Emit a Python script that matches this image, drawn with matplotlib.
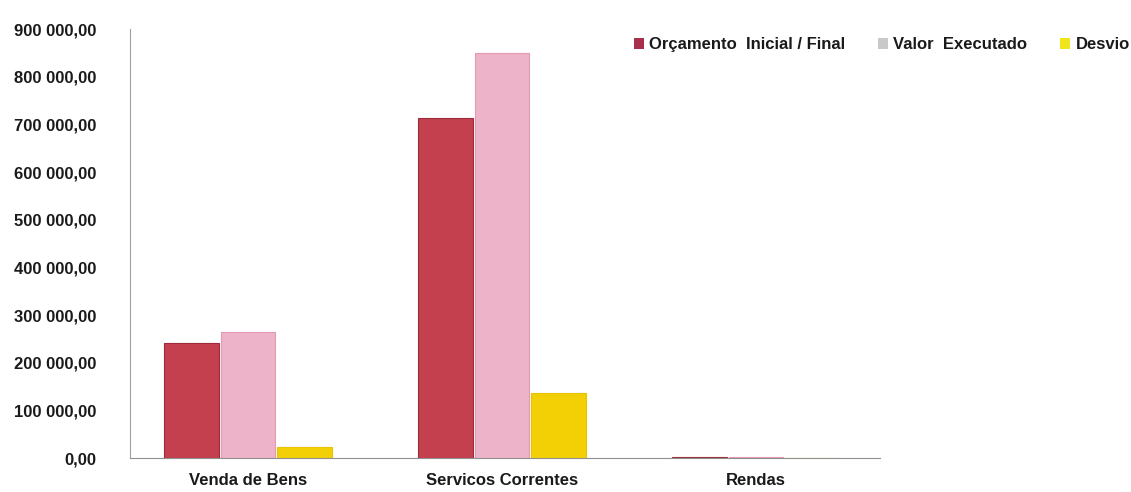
import numpy as np
import matplotlib
matplotlib.use('Agg')
import matplotlib.pyplot as plt
from matplotlib.patches import Patch
from matplotlib.ticker import FuncFormatter

plt.rcParams['font.family'] = ['Liberation Sans Narrow', 'Liberation Sans', 'DejaVu Sans']

categories = ['Venda de Bens', 'Servicos Correntes', 'Rendas']
series_names = ['Orçamento  Inicial / Final', 'Valor  Executado', 'Desvio']
orcamento = [242000, 713000, 2500]
executado = [265000, 849000, 3000]
desvio = [23000, 136000, 500]

bar_colors = ['#C4404F', '#EDB3C8', '#F3CF06']
edge_colors = ['#9C2A3A', '#E49AB4', '#E8C400']
legend_colors = ['#A8304C', '#C9C9C9', '#EEE51A']


def fmt(v, pos):
    s = f'{v:,.2f}'
    s = s.replace(',', ' ').replace('.', ',')
    return s


fig = plt.figure(figsize=(11.31, 4.92), dpi=100)
ax = fig.add_axes([0.115, 0.069, 0.663, 0.872])

x = np.arange(len(categories))
w = 0.215
for i, vals in enumerate([orcamento, executado, desvio]):
    ax.bar(x + (i - 1) * (w + 0.008), vals, width=w, color=bar_colors[i],
           edgecolor=edge_colors[i], linewidth=0.8)

ax.set_xlim(-0.465, 2.488)
ax.set_ylim(0, 900000)
ax.set_yticks(np.arange(0, 900001, 100000))
ax.yaxis.set_major_formatter(FuncFormatter(fmt))
ax.set_xticks(x)
ax.set_xticklabels(categories)
ax.tick_params(axis='both', length=0, labelsize=12)
ax.tick_params(axis='y', pad=24)
ax.tick_params(axis='x', pad=11)
for lab in ax.get_xticklabels() + ax.get_yticklabels():
    lab.set_fontweight('bold')
    lab.set_color('#1a1a1a')

for s in ['top', 'right']:
    ax.spines[s].set_visible(False)
ax.spines['left'].set_color('#A0A0A0')
ax.spines['bottom'].set_color('#909090')

handles = [Patch(facecolor=c, edgecolor='none') for c in legend_colors]
leg = fig.legend(handles, series_names, loc='upper left', bbox_to_anchor=(0.547, 0.955),
                 ncol=3, frameon=False, handlelength=0.6, handleheight=0.6,
                 handletextpad=0.3, columnspacing=2.0,
                 prop={'weight': 'bold', 'size': 12})
for t in leg.get_texts():
    t.set_color('#1a1a1a')

fig.savefig('out.png', dpi=100)
